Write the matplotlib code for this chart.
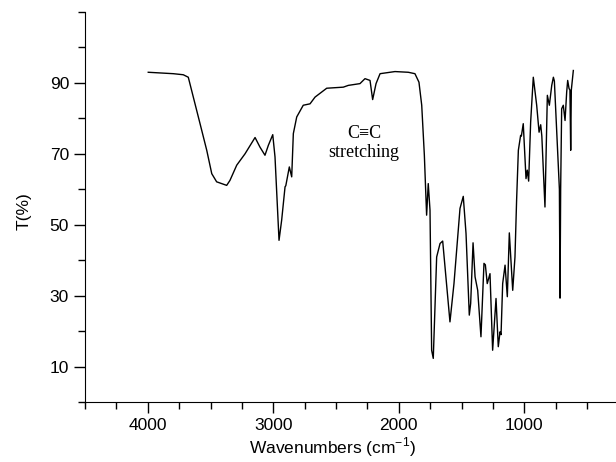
import numpy as np
import matplotlib.pyplot as plt
from matplotlib.ticker import FixedLocator

# FTIR spectrum (wavenumber cm-1, transmittance %)
wavenumber = [3996, 3796, 3743, 3717, 3677, 3637, 3584, 3530, 3490, 3451,
              3371, 3345, 3291, 3225, 3145, 3106, 3066, 3039, 3004, 2986,
              2954, 2933, 2906, 2900, 2872, 2853, 2840, 2813, 2761, 2707,
              2667, 2574, 2442, 2402, 2309, 2269, 2229, 2208, 2181, 2149,
              2030, 1924, 1871, 1839, 1817, 1796, 1785, 1778, 1765, 1751,
              1738, 1725, 1698, 1671, 1650, 1592, 1560, 1512, 1486, 1464,
              1438, 1427, 1408, 1392, 1371, 1345, 1321, 1310, 1295, 1273,
              1252, 1225, 1207, 1193, 1185, 1172, 1153, 1135, 1119, 1092,
              1074, 1061, 1047, 1029, 1023, 1008, 986, 976, 965, 949,
              928, 901, 882, 869, 860, 835, 816, 800, 781, 768,
              760, 720, 715, 710, 702, 689, 675, 662, 654, 643,
              636, 630, 625, 609]
transmittance = [93.0, 92.6, 92.4, 92.3, 91.6, 86.0, 78.6, 71.0, 64.4, 62.1,
                 61.1, 62.5, 66.8, 70.0, 74.6, 71.9, 69.6, 72.4, 75.4, 69.1,
                 45.6, 51.3, 60.7, 61.0, 66.3, 63.5, 75.7, 80.4, 83.7, 84.1,
                 86.0, 88.5, 88.8, 89.3, 89.8, 91.2, 90.7, 85.3, 89.8, 92.6,
                 93.2, 93.0, 92.6, 90.2, 83.7, 69.6, 59.2, 52.7, 61.6, 54.1,
                 14.6, 12.3, 40.9, 44.7, 45.4, 22.6, 33.4, 54.6, 58.0, 47.5,
                 24.5, 27.8, 44.9, 35.3, 31.5, 18.4, 39.1, 38.7, 33.4, 36.2,
                 14.6, 29.2, 15.6, 19.8, 19.0, 33.4, 38.6, 29.7, 47.7, 31.5,
                 40.9, 56.9, 71.0, 75.2, 75.0, 78.5, 63.0, 65.4, 62.3, 79.0,
                 91.6, 83.7, 76.1, 78.2, 75.0, 55.0, 86.5, 83.7, 89.3, 91.6,
                 90.5, 60.0, 29.3, 60.0, 82.7, 83.7, 79.4, 87.4, 90.7, 88.4,
                 88.0, 71.0, 88.0, 93.5]

plt.rcParams['mathtext.fontset'] = 'custom'
plt.rcParams['mathtext.rm'] = 'Liberation Sans'
plt.rcParams['axes.unicode_minus'] = False

fig = plt.figure(figsize=(6.16, 4.62), dpi=100)
ax = fig.add_axes([85/616, 60/462, 531/616, 390/462])

ax.plot(wavenumber, transmittance, color='black', lw=1.0)

ax.set_xlim(4500, 269)
ax.set_ylim(0, 110)

ax.spines['top'].set_visible(False)
ax.spines['right'].set_visible(False)

ax.xaxis.set_major_locator(FixedLocator([4000, 3000, 2000, 1000]))
ax.xaxis.set_minor_locator(FixedLocator([4500, 4250, 3750, 3500, 3250, 2750, 2500, 2250,
                                         1750, 1500, 1250, 750, 500]))
ax.yaxis.set_major_locator(FixedLocator([10, 30, 50, 70, 90]))
ax.yaxis.set_minor_locator(FixedLocator([0, 20, 40, 60, 80, 100, 110]))

ax.tick_params(which='major', direction='out', length=8, width=1, labelsize=12.5)
ax.tick_params(which='minor', direction='out', length=5, width=1)
for lab in ax.get_xticklabels() + ax.get_yticklabels():
    lab.set_family('Liberation Sans')

ax.set_xlabel('Wavenumbers (cm$^{\\mathregular{-1}}$)', fontsize=12.5, family='Liberation Sans')
ax.set_ylabel('T(%)', fontsize=12.5, family='Liberation Sans')
ax.xaxis.set_label_coords(0.467, -0.085)
ax.yaxis.set_label_coords(-0.1, 0.49)

ax.text(2275, 73, 'C\u2261C\nstretching', ha='center', va='center',
        fontsize=13, family='Liberation Serif', linespacing=1.15)

fig.savefig('out.png', dpi=100)
